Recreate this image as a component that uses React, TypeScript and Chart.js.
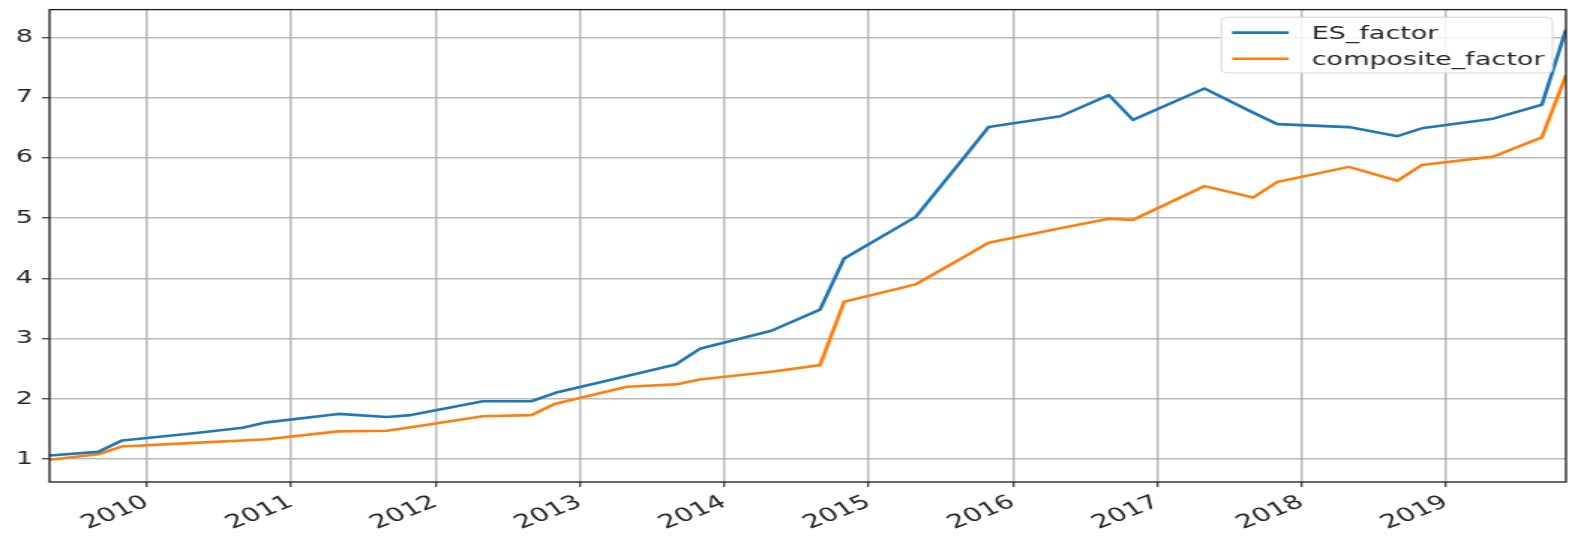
import React, { useEffect, useRef } from "react";
import { Chart, registerables } from "chart.js";

Chart.register(...registerables);

// Report dates (rebalancing points)
const dates: string[] = [
  "2009-04-30", "2009-08-31", "2009-10-31",
  "2010-04-30", "2010-08-31", "2010-10-31",
  "2011-04-30", "2011-08-31", "2011-10-31",
  "2012-04-30", "2012-08-31", "2012-10-31",
  "2013-04-30", "2013-08-31", "2013-10-31",
  "2014-04-30", "2014-08-31", "2014-10-31",
  "2015-04-30", "2015-08-31", "2015-10-31",
  "2016-04-30", "2016-08-31", "2016-10-31",
  "2017-04-30", "2017-08-31", "2017-10-31",
  "2018-04-30", "2018-08-31", "2018-10-31",
  "2019-04-30", "2019-08-31", "2019-10-31",
];

const esFactor: number[] = [
  1.06, 1.12, 1.31,
  1.43, 1.52, 1.61,
  1.75, 1.70, 1.73,
  1.96, 1.96, 2.10,
  2.38, 2.57, 2.83,
  3.13, 3.48, 4.33,
  5.02, 6.01, 6.51,
  6.69, 7.04, 6.63,
  7.15, 6.75, 6.56,
  6.51, 6.36, 6.49,
  6.65, 6.88, 8.13,
];

const compositeFactor: number[] = [
  0.99, 1.08, 1.21,
  1.27, 1.31, 1.33,
  1.46, 1.47, 1.53,
  1.71, 1.73, 1.92,
  2.20, 2.24, 2.32,
  2.45, 2.56, 3.61,
  3.90, 4.36, 4.59,
  4.83, 4.99, 4.97,
  5.53, 5.34, 5.60,
  5.85, 5.62, 5.88,
  6.02, 6.34, 7.37,
];

const seriesLabels: string[] = ["ES_factor", "composite_factor"];
const seriesColors: string[] = ["#1f77b4", "#ff7f0e"];
const yearTicks: number[] = [2010, 2011, 2012, 2013, 2014, 2015, 2016, 2017, 2018, 2019];
const yTicks: number[] = [1, 2, 3, 4, 5, 6, 7, 8];
const yMin = 0.62;
const yMax = 8.46;

const FONT = "DejaVu Sans";
const FS = 18;

function toYear(d: string): number {
  const [y, m, dd] = d.split("-").map(Number);
  const start = Date.UTC(y, 0, 1);
  const end = Date.UTC(y + 1, 0, 1);
  return y + (Date.UTC(y, m - 1, dd) - start) / (end - start);
}

const xs = dates.map(toYear);

const framePlugin = {
  id: "frameAndLegend",
  afterDatasetsDraw(chart: any) {
    const { ctx, chartArea: a } = chart;
    ctx.save();
    ctx.strokeStyle = "#1a1a1a";
    ctx.lineWidth = 1.3;
    ctx.strokeRect(a.left, a.top, a.right - a.left, a.bottom - a.top);
    ctx.restore();
  },
  afterDraw(chart: any) {
    const { ctx, chartArea: a } = chart;
    const ds = chart.data.datasets;
    ctx.save();
    ctx.font = `${FS}px "${FONT}"`;
    let textW = 0;
    ds.forEach((d: any) => {
      textW = Math.max(textW, ctx.measureText(d.label).width);
    });
    const boxW = 0.4 * FS + 2.1 * FS + 0.85 * FS + textW + 0.3 * FS;
    const boxH = 3.1 * FS;
    const right = a.right - 0.5 * FS;
    const left = right - boxW;
    const top = a.top + 0.42 * FS;
    const r = 4;
    ctx.beginPath();
    ctx.moveTo(left + r, top);
    ctx.lineTo(right - r, top);
    ctx.quadraticCurveTo(right, top, right, top + r);
    ctx.lineTo(right, top + boxH - r);
    ctx.quadraticCurveTo(right, top + boxH, right - r, top + boxH);
    ctx.lineTo(left + r, top + boxH);
    ctx.quadraticCurveTo(left, top + boxH, left, top + boxH - r);
    ctx.lineTo(left, top + r);
    ctx.quadraticCurveTo(left, top, left + r, top);
    ctx.closePath();
    ctx.fillStyle = "rgba(255,255,255,0.85)";
    ctx.fill();
    ctx.strokeStyle = "rgba(210,210,210,0.9)";
    ctx.lineWidth = 1;
    ctx.stroke();
    ds.forEach((d: any, i: number) => {
      const cy = top + 0.97 * FS + i * 1.45 * FS;
      const x0 = left + 0.4 * FS;
      ctx.beginPath();
      ctx.moveTo(x0, cy - 2);
      ctx.lineTo(x0 + 2.1 * FS, cy - 2);
      ctx.strokeStyle = d.borderColor;
      ctx.lineWidth = 2.6;
      ctx.stroke();
      ctx.fillStyle = "#262626";
      ctx.textBaseline = "middle";
      ctx.textAlign = "left";
      ctx.fillText(d.label, x0 + 2.95 * FS, cy);
    });
    ctx.restore();
  },
};

export default function App() {
  const ref = useRef<HTMLCanvasElement>(null);
  useEffect(() => {
    const canvas = ref.current;
    if (!canvas) return;
    const seriesValues = [esFactor, compositeFactor];
    const chart = new Chart(canvas, {
      type: "line",
      data: {
        datasets: seriesValues.map((vals, i) => ({
          label: seriesLabels[i],
          data: vals.map((v, j) => ({ x: xs[j], y: v })),
          borderColor: seriesColors[i],
          backgroundColor: seriesColors[i],
          borderWidth: 2.6,
          pointRadius: 0,
          tension: 0,
          borderJoinStyle: "round",
          fill: false,
        })),
      },
      options: {
        responsive: false,
        maintainAspectRatio: false,
        devicePixelRatio: 1,
        animation: false,
        events: [],
        layout: { padding: { top: 9.6, right: 6, left: 0, bottom: 0 } },
        plugins: {
          legend: { display: false },
          tooltip: { enabled: false },
        },
        scales: {
          x: {
            type: "linear",
            min: xs[0],
            max: xs[xs.length - 1],
            afterBuildTicks: (scale: any) => {
              scale.ticks = yearTicks.map((v) => ({ value: v }));
            },
            afterFit: (scale: any) => {
              scale.height = 58;
            },
            ticks: {
              includeBounds: false,
              autoSkip: false,
              maxRotation: 30,
              minRotation: 30,
              padding: 4,
              color: "#262626",
              font: { family: FONT, size: 19 },
              callback: (v: any) => String(v),
            },
            grid: {
              color: "rgba(170,170,170,0.8)",
              lineWidth: 1.5,
              drawTicks: true,
              tickLength: 5,
              tickColor: "#333",
              tickWidth: 1.2,
            },
            border: { display: false },
          },
          y: {
            type: "linear",
            min: yMin,
            max: yMax,
            afterBuildTicks: (scale: any) => {
              scale.ticks = yTicks.map((v) => ({ value: v }));
            },
            afterFit: (scale: any) => {
              scale.width = 33;
            },
            ticks: {
              includeBounds: false,
              autoSkip: false,
              padding: 6,
              color: "#262626",
              font: { family: FONT, size: FS, lineHeight: 0.4 },
              callback: (v: any) => String(v),
            },
            grid: {
              color: "rgba(170,170,170,0.8)",
              lineWidth: 1.5,
              drawTicks: true,
              tickLength: 5,
              tickColor: "#333",
              tickWidth: 1.2,
            },
            border: { display: false },
          },
        },
      },
      plugins: [framePlugin],
    } as any);
    return () => chart.destroy();
  }, []);

  return (
    <div
      style={{
        position: "absolute",
        left: 0,
        top: 0,
        width: 1575,
        height: 540,
        background: "#fff",
      }}
    >
      <canvas
        ref={ref}
        width={1050}
        height={540}
        style={{ width: "1575px", height: "540px", display: "block" }}
      />
    </div>
  );
}
